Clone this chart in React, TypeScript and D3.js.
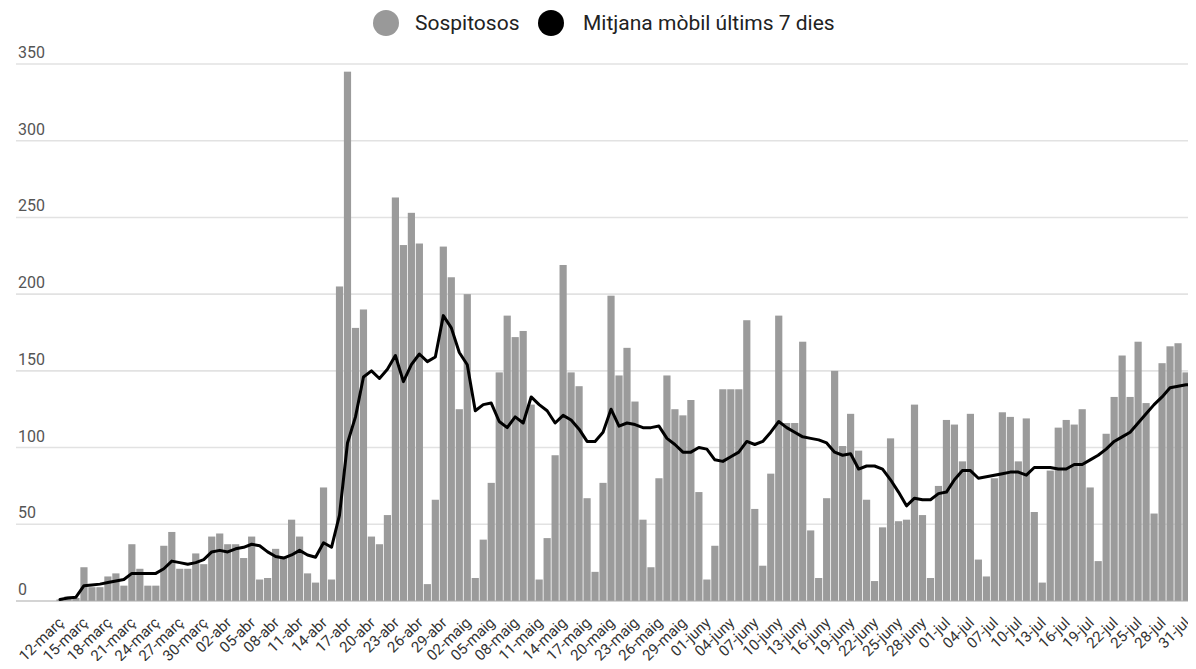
import React from "react";
import * as d3 from "d3";

const sospitosos: number[] = [
  1, 3, 2, 22, 9, 9, 16, 18, 10, 37,
  21, 10, 10, 36, 45, 21, 21, 31, 24, 42,
  44, 37, 37, 28, 42, 14, 15, 34, 29, 53,
  42, 18, 12, 74, 14, 205, 345, 178, 190, 42,
  37, 56, 263, 232, 253, 233, 11, 66, 231, 211,
  125, 200, 15, 40, 77, 149, 186, 172, 176, 128,
  14, 41, 95, 219, 149, 140, 67, 19, 77, 199,
  147, 165, 130, 53, 22, 80, 147, 125, 121, 131,
  71, 14, 36, 138, 138, 138, 183, 60, 23, 83,
  186, 116, 116, 169, 46, 15, 67, 150, 101, 122,
  98, 66, 13, 48, 106, 52, 53, 128, 56, 15,
  75, 118, 115, 91, 122, 27, 16, 80, 123, 120,
  91, 119, 58, 12, 85, 113, 118, 115, 125, 74,
  26, 109, 133, 160, 133, 169, 129, 57, 155, 166,
  168, 149, 161,
];

const mitjana: number[] = [
  1, 2, 2.5, 10, 10.5, 11, 12, 13, 14, 18,
  18, 18, 18, 21, 26, 25, 24, 25, 27, 32,
  33, 32, 34, 35, 37, 36, 32, 29, 28, 30,
  33, 30, 28.5, 38, 35, 56, 103, 120, 146, 150,
  145, 151, 160, 143, 154, 161, 156, 159, 186, 178,
  162, 154, 124, 128, 129, 117, 113, 120, 116, 133,
  128, 124, 116, 121, 118, 112, 104, 104, 110, 125,
  114, 116, 115, 113, 113, 114, 106, 102, 97, 97,
  100, 99, 92, 91, 94, 97, 104, 102, 104, 110,
  117, 113, 110, 107, 106, 105, 103, 97, 95, 96,
  86, 88, 88, 86, 79, 71, 62, 67, 66, 66,
  70, 71, 79, 85, 85, 80, 81, 82, 83, 84,
  84, 82, 87, 87, 87, 86, 86, 89, 89, 92,
  95, 99, 104, 107, 110, 116, 122, 128, 133, 139,
  140, 141, 141,
];

const tickLabels: string[] = [
  "12-març", "15-març", "18-març", "21-març", "24-març", "27-març", "30-març",
  "02-abr", "05-abr", "08-abr", "11-abr", "14-abr", "17-abr", "20-abr", "23-abr", "26-abr", "29-abr",
  "02-maig", "05-maig", "08-maig", "11-maig", "14-maig", "17-maig", "20-maig", "23-maig", "26-maig", "29-maig",
  "01-juny", "04-juny", "07-juny", "10-juny", "13-juny", "16-juny", "19-juny", "22-juny", "25-juny", "28-juny",
  "01-jul", "04-jul", "07-jul", "10-jul", "13-jul", "16-jul", "19-jul", "22-jul", "25-jul", "28-jul", "31-jul",
];

const yTicks: number[] = [0, 50, 100, 150, 200, 250, 300, 350];

const legendItems = [
  { label: "Sospitosos", color: "#999999" },
  { label: "Mitjana mòbil últims 7 dies", color: "#000000" },
];

const W = 1196;
const H = 669;
const FONT = "Roboto, 'Open Sans', Arial, sans-serif";

export default function App() {
  const days = d3.range(sospitosos.length);
  const x = d3.scaleBand<number>().domain(days).range([56, 1198]).paddingInner(0.1).paddingOuter(0.05);
  const y = d3.scaleLinear().domain([0, 350]).range([601, 64]);
  const cx = (i: number) => (x(i) as number) + x.bandwidth() / 2;

  const line = d3
    .line<number>()
    .x((_, i) => cx(i))
    .y((d) => y(d));

  return (
    <div style={{ margin: -8, width: W, height: H, overflow: "hidden", background: "#fff" }}>
      <svg width={W} height={H} style={{ display: "block", fontFamily: FONT }}>
        <rect width={W} height={H} fill="#fff" />
        {yTicks.map((t) => (
          <g key={t}>
            {t > 0 && (
              <line x1={16} x2={W} y1={y(t)} y2={y(t)} stroke="#e2e2e2" strokeWidth={1.6} />
            )}
            <text x={18} y={y(t) - 6} fontSize={16} fill="#555">
              {t}
            </text>
          </g>
        ))}
        {sospitosos.map((v, i) => (
          <rect
            key={i}
            x={x(i)}
            y={y(v)}
            width={x.bandwidth()}
            height={y(0) - y(v)}
            fill="#9b9b9b"
          />
        ))}
        <line x1={16} x2={W} y1={y(0)} y2={y(0)} stroke="#aaaaaa" strokeWidth={1.2} />
        <path
          d={line(mitjana) || ""}
          fill="none"
          stroke="#000"
          strokeWidth={3}
          strokeLinejoin="round"
          strokeLinecap="round"
        />
        {tickLabels.map((lab, k) => {
          const i = k * 3;
          return (
            <text
              key={lab}
              transform={`translate(${cx(i) + 1},${620}) rotate(-44)`}
              textAnchor="end"
              dy="0.35em"
              fontSize={15}
              fill="#333"
            >
              {lab}
            </text>
          );
        })}
        <g>
          <circle cx={386} cy={23} r={13} fill={legendItems[0].color} />
          <text x={415} y={30} fontSize={21} fill="#222">
            {legendItems[0].label}
          </text>
          <circle cx={551} cy={23} r={13} fill={legendItems[1].color} />
          <text x={583} y={30} fontSize={21} fill="#222">
            {legendItems[1].label}
          </text>
        </g>
      </svg>
    </div>
  );
}
